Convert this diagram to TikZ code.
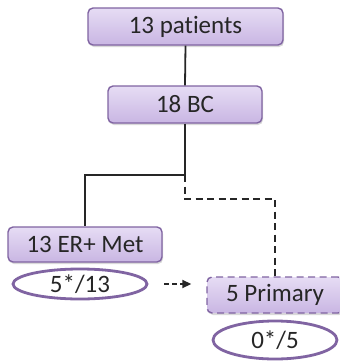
\documentclass[tikz,border=0pt]{standalone}
\usepackage{fontspec}
\setmainfont{Carlito}[Ligatures={NoCommon,NoContextual}]
\usetikzlibrary{shadows,arrows.meta,shapes.geometric}
\definecolor{boxborder}{HTML}{8064A2}
\definecolor{boxtop}{HTML}{E6DCF4}
\definecolor{boxbot}{HTML}{C9B6E3}
\definecolor{txt}{HTML}{262626}
\begin{document}
\begin{tikzpicture}[x=1pt,y=-1pt,
  box/.style={draw=boxborder, line width=1.4pt, rounded corners=5pt,
    top color=boxtop, bottom color=boxbot, inner sep=0pt,
    font=\fontsize{25}{28}\selectfont, text=txt,
    drop shadow={opacity=0.3, shadow xshift=1pt, shadow yshift=-2pt}},
  oval/.style={ellipse, draw=boxborder, line width=2.8pt, fill=white, inner sep=0pt,
    font=\fontsize{25}{28}\selectfont, text=txt},
  conn/.style={line width=1.8pt, draw=black!85},
  dconn/.style={line width=1.8pt, draw=black!85, dash pattern=on 7pt off 4.5pt}]
\clip (0,0) rectangle (340,362);
\node[box, minimum width=195pt, minimum height=37pt] (b1) at (185.5,26.5) {13 patients};
\node[box, minimum width=154pt, minimum height=37pt] (b2) at (185,104.5) {18 BC};
\node[box, minimum width=154pt, minimum height=35pt] (b3) at (85,244.5) {13 ER+ Met};
\node[box, minimum width=136pt, minimum height=36pt, dash pattern=on 7pt off 4.5pt] (b4) at (275,295) {5 Primary};
\node[oval, minimum width=134pt, minimum height=30pt] (e1) at (80,284) {5*/13};
\node[oval, minimum width=124pt, minimum height=38pt] (e2) at (275,340) {0*/5};
\coordinate (split) at (185,175);
\coordinate (bend) at (185,199);
\draw[conn] (b1.south) -- (b2.north);
\draw[conn] (b2.south) -- (split) -| (b3.north);
\draw[dconn] (split) -- (bend) -| (b4.north);
\draw[line width=1.8pt, draw=black!85, dash pattern=on 5pt off 3pt, -{Triangle[length=9pt,width=8pt]}]
  ([xshift=16pt]e1.east) -- ([xshift=-15pt]b4.west |- e1.east);
\end{tikzpicture}
\end{document}
